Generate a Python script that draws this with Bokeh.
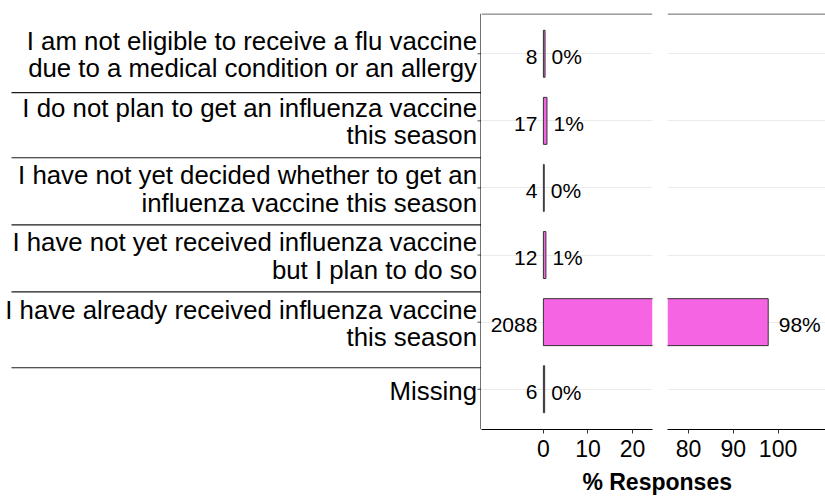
from bokeh.plotting import figure
from bokeh.layouts import row, column
from bokeh.models import Range1d, FixedTicker, Span, ColumnDataSource
from bokeh.core.properties import value
from bokeh.embed import file_html
from bokeh.resources import INLINE

# ---------------- data ----------------
categories = [
    "I am not eligible to receive a flu vaccine\ndue to a medical condition or an allergy",
    "I do not plan to get an influenza vaccine\nthis season",
    "I have not yet decided whether to get an\ninfluenza vaccine this season",
    "I have not yet received influenza vaccine\nbut I plan to do so",
    "I have already received influenza vaccine\nthis season",
    "Missing",
]
counts = [8, 17, 4, 12, 2088, 6]
pct = [0.37, 0.80, 0.19, 0.56, 97.80, 0.28]
pct_labels = ["0%", "1%", "0%", "1%", "98%", "0%"]
left_ticks = [0, 10, 20]
right_ticks = [80, 90, 100]
x_title = "% Responses"

# ---------------- styling / layout ----------------
FONT = "Liberation Sans"
FONTV = value(FONT)
BAR_FILL = "#F564E3"
BAR_LINE = "#333333"
BAR_H = 0.7
W = 825
H = 466          # height of the row of panels
TOP, BOTTOM = 13, 37

n = len(categories)
idx = list(range(n))
yr = Range1d(n - 0.4, -0.6)

# ---------- label panel ----------
LAB_W = 481
lab = figure(width=LAB_W, height=H, x_range=Range1d(0, LAB_W), y_range=yr,
             toolbar_location=None, output_backend="svg",
             min_border_left=0, min_border_right=0, min_border_top=TOP, min_border_bottom=BOTTOM,
             x_axis_location=None, y_axis_location=None, outline_line_color=None)
lab.grid.visible = False

ly, lt, lo = [], [], []
for i, c in enumerate(categories):
    parts = c.split("\n")
    offs = [-12.6, 14.6] if len(parts) == 2 else [1.4]
    for ptxt, off in zip(parts, offs):
        ly.append(i)
        lt.append(ptxt)
        lo.append(off)
lsrc = ColumnDataSource(dict(y=ly, text=lt, off=lo))
lab.text(x=476.5, y="y", text="text", y_offset="off", source=lsrc,
         text_align="right", text_baseline="middle",
         text_font=FONTV, text_font_size="25.8px", text_color="black")

sep_y = [0.58, 1.55, 2.55, 3.55, 4.68]
lab.segment(x0=11, x1=LAB_W, y0=sep_y, y1=sep_y, line_color="#1a1a1a", line_width=1.2)
lab.segment(x0=477, x1=480.5, y0=idx, y1=idx, line_color="#555555", line_width=1)
lab.segment(x0=[480.5], x1=[480.5], y0=[-0.6], y1=[n - 0.4], line_color="black", line_width=1.1)


def panel(xr, ticks, width, border_right, pct_off):
    p = figure(width=width, height=H, x_range=xr, y_range=yr,
               toolbar_location=None, output_backend="svg",
               min_border_left=0, min_border_right=border_right,
               min_border_top=TOP, min_border_bottom=BOTTOM,
               y_axis_location=None, outline_line_color=None)
    p.xgrid.visible = False
    p.ygrid.ticker = FixedTicker(ticks=idx)
    p.ygrid.grid_line_color = "#EBEBEB"
    p.ygrid.grid_line_width = 1
    ax = p.xaxis[0]
    ax.ticker = FixedTicker(ticks=ticks)
    ax.major_label_text_font = FONT
    ax.major_label_text_font_size = "23px"
    ax.major_label_text_color = "black"
    ax.major_tick_out = 4
    ax.major_tick_in = 0
    ax.minor_tick_line_color = None
    ax.axis_line_color = "black"
    ax.major_tick_line_color = "#333333"
    ax.major_label_standoff = 6

    lo_x, hi_x = xr.start, xr.end
    inside = lambda v: lo_x <= v <= hi_x
    # bars wholly inside this panel: normal outlined bars
    full = [i for i in idx if inside(0) and inside(pct[i])]
    # bars that cross the panel edge: fill + visible edges only
    part = [i for i in idx if i not in full and pct[i] > lo_x and 0 < hi_x]
    if full:
        p.hbar(y=[i for i in full], left=0, right=[pct[i] for i in full], height=BAR_H,
               fill_color=BAR_FILL, line_color=BAR_LINE, line_width=1)
    if part:
        py = [i for i in part]
        pr = [pct[i] for i in part]
        p.hbar(y=py, left=0, right=pr, height=BAR_H, fill_color=BAR_FILL, line_color=None)
        yt = [i - BAR_H / 2 for i in part]
        yb = [i + BAR_H / 2 for i in part]
        p.segment(x0=0, x1=pr, y0=yt, y1=yt, line_color=BAR_LINE, line_width=1)
        p.segment(x0=0, x1=pr, y0=yb, y1=yb, line_color=BAR_LINE, line_width=1)
        ends = [(pct[i], i) for i in part if inside(pct[i])]
        if inside(0):
            ends += [(0, i) for i in part]
        if ends:
            p.segment(x0=[e[0] for e in ends], x1=[e[0] for e in ends],
                      y0=[e[1] - BAR_H / 2 for e in ends], y1=[e[1] + BAR_H / 2 for e in ends],
                      line_color=BAR_LINE, line_width=1)

    if inside(0):
        p.text(x=0, y=idx, text=[str(c) for c in counts], x_offset=-6, y_offset=2.8,
               text_align="right", text_baseline="middle",
               text_font=FONTV, text_font_size="21px", text_color="black")
    vis = [i for i in idx if inside(pct[i])]
    if vis:
        p.text(x=[pct[i] for i in vis], y=vis, text=[pct_labels[i] for i in vis],
               x_offset=pct_off, y_offset=2.8,
               text_align="left", text_baseline="middle",
               text_font=FONTV, text_font_size="21px", text_color="black")
    p.add_layout(Span(location=-0.593, dimension="width", line_color="#333333", line_width=1))
    return p


LEFT_W = 186
left = panel(Range1d(-13.9, 24.5), left_ticks, LEFT_W, 15, 6.5)
right = panel(Range1d(75.3, 110.6), right_ticks, W - LAB_W - LEFT_W, 0, 10.5)

BOT_H = 496 - H
bot = figure(width=W, height=BOT_H, x_range=Range1d(0, W), y_range=Range1d(BOT_H, 0),
             toolbar_location=None, output_backend="svg", min_border=0,
             x_axis_location=None, y_axis_location=None, outline_line_color=None)
bot.grid.visible = False
bot.text(x=[656.7], y=[15.7], text=[x_title], text_align="center", text_baseline="middle",
         text_font=FONTV, text_font_size="23px", text_font_style="bold", text_color="black")

layout = column(row(lab, left, right), bot)
open("out.html", "w").write(file_html(layout, INLINE))
